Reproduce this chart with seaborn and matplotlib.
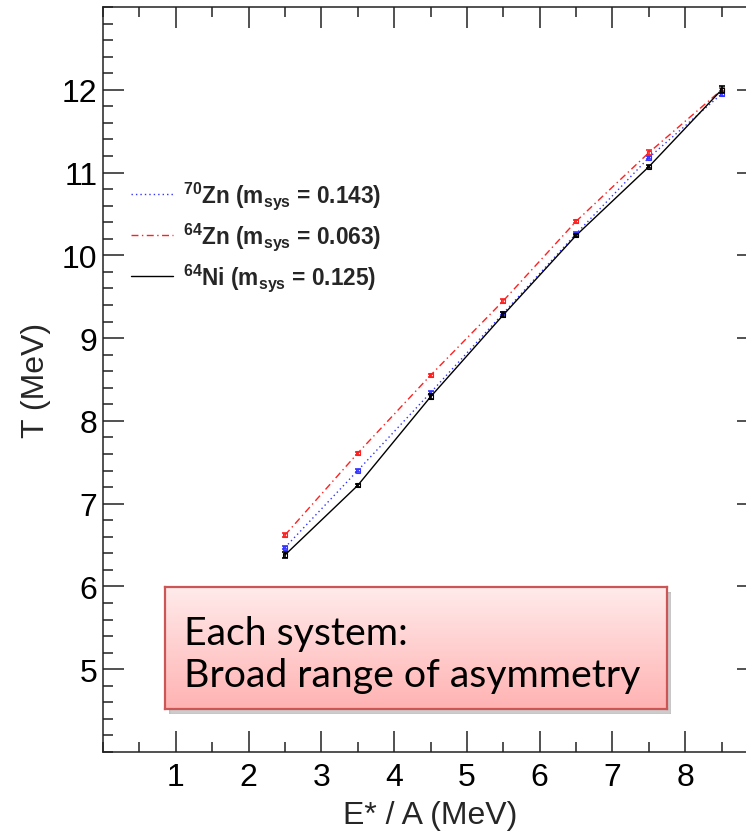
import numpy as np
import pandas as pd
import matplotlib
matplotlib.use("Agg")
import matplotlib.pyplot as plt
import seaborn as sns
from matplotlib.ticker import MultipleLocator
from matplotlib.lines import Line2D
from matplotlib.patches import Rectangle

# ---- data ----
energy = [2.5, 3.5, 4.5, 5.5, 6.5, 7.5, 8.5]
t_zn70 = [6.47, 7.40, 8.34, 9.30, 10.26, 11.18, 11.95]
t_zn64 = [6.62, 7.61, 8.55, 9.45, 10.41, 11.24, 12.00]
t_ni64 = [6.38, 7.22, 8.29, 9.28, 10.24, 11.07, 12.00]
err_zn70 = [0.02, 0.02, 0.02, 0.02, 0.02, 0.02, 0.02]
err_zn64 = [0.02, 0.02, 0.02, 0.02, 0.02, 0.03, 0.02]
err_ni64 = [0.04, 0.02, 0.03, 0.03, 0.02, 0.02, 0.04]
labels = [r"$^{70}$Zn (m$_{sys}$ = 0.143)",
          r"$^{64}$Zn (m$_{sys}$ = 0.063)",
          r"$^{64}$Ni (m$_{sys}$ = 0.125)"]
colors = ["#3333ff", "#ff2020", "#000000"]
xticks = [1, 2, 3, 4, 5, 6, 7, 8]
yticks = [5, 6, 7, 8, 9, 10, 11, 12]
xlabel = "E* / A (MeV)"
ylabel = "T (MeV)"
box_text = "Each system:\nBroad range of asymmetry"

series_t = [t_zn70, t_zn64, t_ni64]
series_e = [err_zn70, err_zn64, err_ni64]
df = pd.concat([pd.DataFrame({"E": energy, "T": t, "sys": lab})
                for t, lab in zip(series_t, labels)], ignore_index=True)

sns.set_theme(style="ticks")
plt.rcParams["font.family"] = ["Liberation Sans", "DejaVu Sans"]
plt.rcParams["mathtext.fontset"] = "custom"
plt.rcParams["mathtext.rm"] = "Liberation Sans:bold"
plt.rcParams["mathtext.it"] = "Liberation Sans:bold"
plt.rcParams["mathtext.bf"] = "Liberation Sans:bold"

W, H = 746, 837
fig = plt.figure(figsize=(W / 100, H / 100), dpi=100)
L, R, T, B = 103, 758, 8, 753
ax = fig.add_axes([L / W, 1 - B / H, (R - L) / W, (B - T) / H])

palette = dict(zip(labels, colors))
dashes = {labels[0]: (1, 2.2), labels[1]: (5, 2.5, 1, 2.5), labels[2]: ""}
sns.lineplot(data=df, x="E", y="T", hue="sys", style="sys", palette=palette,
             dashes=dashes, linewidth=1.0, ax=ax, legend=False, sort=False)
for t, e, c in zip(series_t, series_e, colors):
    ax.errorbar(energy, t, yerr=e, fmt="none", ecolor=c, elinewidth=1.2,
                capsize=2.5, capthick=1.2, zorder=3)
    ax.plot(energy, t, ls="none", marker="s", ms=2.5, mfc="none", mec=c,
            mew=0.8, zorder=3)

ax.set_xlim(0, 9)
ax.set_ylim(4, 13)
ax.set_xticks(xticks)
ax.set_yticks(yticks)
ax.xaxis.set_minor_locator(MultipleLocator(0.5))
ax.yaxis.set_minor_locator(MultipleLocator(0.2))
ax.tick_params(which="both", direction="in", top=True, right=True,
               width=1.1, colors="#222222", labelcolor="black",
               labelsize=23)
ax.tick_params(which="major", length=15)
ax.tick_params(which="minor", length=7.5)
ax.tick_params(axis="x", pad=7)
ax.tick_params(axis="y", pad=4)
for s in ax.spines.values():
    s.set_linewidth(1.1)
    s.set_color("#222222")
ax.set_xlabel(xlabel, fontsize=23, labelpad=6)
ax.set_ylabel(ylabel, fontsize=23, labelpad=8)

handles = [Line2D([], [], color=c, lw=1.0, dashes=dashes[lab])
           for c, lab in zip(colors[:2], labels[:2])]
handles.append(Line2D([], [], color=colors[2], lw=1.0))
leg = ax.legend(handles, labels, loc="upper left",
                bbox_to_anchor=(131 / W, 1 - 180 / H), bbox_transform=fig.transFigure,
                frameon=False, prop={"family": "Liberation Sans", "weight": "bold", "size": 16.3},
                handlelength=1.85, handletextpad=0.45, labelspacing=0.42,
                borderaxespad=0, borderpad=0)

# ---- annotation box ----
bx0, bx1, by0, by1 = 165, 667, 588, 710
sh = fig.add_axes([(bx0 + 4) / W, 1 - (by1 + 5) / H, (bx1 - bx0) / W, (by1 - by0) / H])
sh.add_patch(Rectangle((0, 0), 1, 1, transform=sh.transAxes, color="#9a9a9a", alpha=0.5))
sh.axis("off")
bax = fig.add_axes([bx0 / W, 1 - by1 / H, (bx1 - bx0) / W, (by1 - by0) / H])
top_c = np.array([1.0, 0.92, 0.92])
bot_c = np.array([1.0, 0.70, 0.70])
grad = np.linspace(0, 1, 128)[:, None, None] * (bot_c - top_c) + top_c
bax.imshow(np.repeat(grad, 2, axis=1), aspect="auto", extent=(0, 1, 0, 1))
bax.set_xticks([])
bax.set_yticks([])
for s in bax.spines.values():
    s.set_color("#cc5555")
    s.set_linewidth(1.6)
bax.text(19 / (bx1 - bx0), 0.45, box_text, transform=bax.transAxes,
         ha="left", va="center", fontsize=28.3, family=["Lato", "DejaVu Sans"],
         linespacing=1.2, color="black")

fig.savefig("out.png", dpi=100)
